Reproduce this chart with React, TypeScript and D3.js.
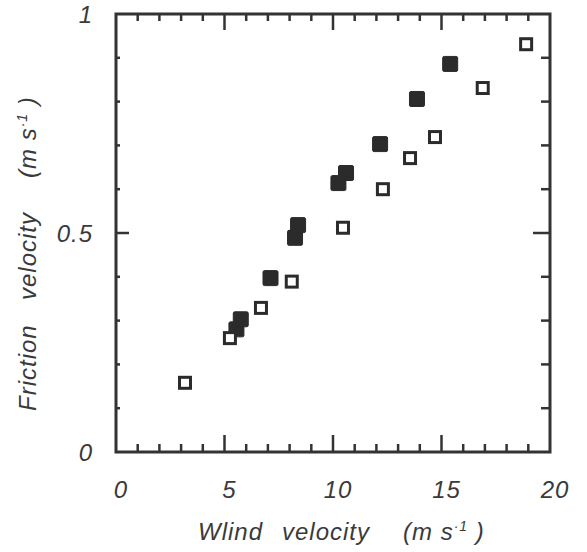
import React from "react";
import * as d3 from "d3";

const openPoints: [number, number][] = [
  [3.18, 0.158], [5.25, 0.26], [6.68, 0.329], [8.1, 0.389], [10.46, 0.512],
  [12.3, 0.6], [13.55, 0.671], [14.7, 0.719], [16.9, 0.831], [18.9, 0.931],
];
const filledPoints: [number, number][] = [
  [5.55, 0.28], [5.75, 0.303], [7.12, 0.397], [8.25, 0.489], [8.39, 0.518],
  [10.25, 0.614], [10.6, 0.637], [12.17, 0.703], [13.87, 0.806], [15.4, 0.886],
];
const xTickLabels = [0, 5, 10, 15, 20];
const yTickLabels = [0, 0.5, 1];

const W = 587, H = 552;
const X0 = 116, X1 = 550, Y0 = 452, Y1 = 14;
const ink = "#333";
const font = "'Liberation Sans', Arial, Helvetica, sans-serif";

export default function App() {
  const x = d3.scaleLinear().domain([0, 20]).range([X0, X1]);
  const y = d3.scaleLinear().domain([0, 1]).range([Y0, Y1]);
  const xMinor = x.ticks(20);
  const yMinor = y.ticks(10);
  const isXMajor = (v: number) => Math.abs(v % 5) < 1e-6;
  const isYMajor = (v: number) => Math.abs((v * 10) % 5) < 1e-6;
  const sq = 14;
  const fsq = 15;

  return (
    <svg width={W} height={H} style={{ position: "absolute", left: 0, top: 0, background: "#fff" }}>
      {xMinor.map((v) => {
        const major = isXMajor(v);
        if (v === 0 || v === 20) return null;
        return (
          <g key={"xt" + v} stroke={ink} strokeWidth={2.5}>
            <line x1={x(v)} x2={x(v)} y1={Y0} y2={Y0 - (major ? 17 : 8)} />
            <line x1={x(v)} x2={x(v)} y1={Y1} y2={Y1 + (major ? 16 : 7)} />
          </g>
        );
      })}
      {yMinor.map((v) => {
        const major = isYMajor(v);
        if (v === 0 || v === 1) return null;
        return (
          <g key={"yt" + v} stroke={ink} strokeWidth={2.5}>
            <line x1={X0} x2={X0 + (major ? 13 : 4)} y1={y(v)} y2={y(v)} />
            <line x1={X1} x2={X1 - (major ? 17 : 9)} y1={y(v)} y2={y(v)} />
          </g>
        );
      })}
      <rect x={X0} y={Y1} width={X1 - X0} height={Y0 - Y1} fill="none" stroke={ink} strokeWidth={3} />

      {xTickLabels.map((v) => (
        <text key={"xl" + v} x={x(v) + 5} y={498} textAnchor="middle" fontFamily={font}
          fontStyle="italic" fontSize={24} letterSpacing={1} fill="#3a3a3a">{v}</text>
      ))}
      {yTickLabels.map((v) => (
        <text key={"yl" + v} x={93} y={y(v) + 9} textAnchor="end" fontFamily={font}
          fontStyle="italic" fontSize={24} letterSpacing={1} fill="#3a3a3a">{v}</text>
      ))}

      {filledPoints.map(([a, b], i) => (
        <rect key={"f" + i} x={x(a) - fsq / 2} y={y(b) - fsq / 2} width={fsq} height={fsq} rx={1.5}
          fill="#2b2b2b" stroke="#2b2b2b" strokeWidth={1} />
      ))}
      {openPoints.map(([a, b], i) => (
        <rect key={"o" + i} x={x(a) - sq / 2 + 1.5} y={y(b) - sq / 2 + 1.5} width={sq - 3} height={sq - 3}
          fill="#fff" stroke="#2b2b2b" strokeWidth={3} />
      ))}

      <g fontFamily={font} fontStyle="italic" fontSize={24} letterSpacing={1} fill="#3a3a3a">
        <text x={198} y={540}>Wlind</text>
        <text x={282} y={540}>velocity</text>
        <text x={403} y={540}>(m s<tspan fontSize={14} dy={-9}>·1</tspan><tspan dy={9}> )</tspan></text>
      </g>

      <g fontFamily={font} fontStyle="italic" fontSize={24} letterSpacing={1} fill="#3a3a3a">
        <text transform="translate(36,411) rotate(-90)">Friction</text>
        <text transform="translate(36,300) rotate(-90)">velocity</text>
        <text transform="translate(36,178) rotate(-90)">(m s<tspan fontSize={14} dy={-9}>·1</tspan><tspan dy={9}> )</tspan></text>
      </g>
    </svg>
  );
}
